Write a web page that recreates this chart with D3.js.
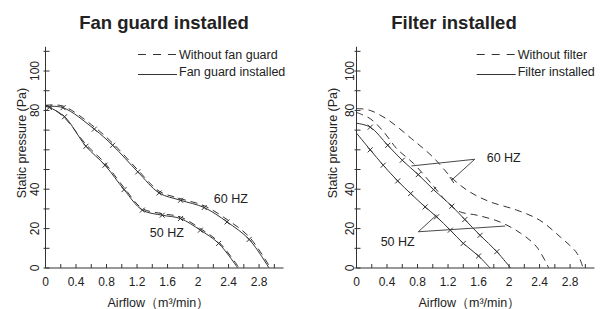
<!DOCTYPE html>
<html>
<head>
<meta charset="utf-8">
<script src="https://cdn.jsdelivr.net/npm/d3@7"></script>
<style>
  body { margin: 0; background: #fff; }
  svg { display: block; }
  text { font-family: "Liberation Sans", Arial, Helvetica, sans-serif; fill: #222; }
</style>
</head>
<body>
<div id="chart"></div>
<script>
// axis ticks
const xTickLabels = [0, 0.4, 0.8, 1.2, 1.6, 2, 2.4, 2.8]
const xMinorTicks = d3.range(0, 3.01, 0.2)
const yTickLabels = [0, 20, 40, 80, 100]
const yMinorTicks = d3.range(0, 111, 10)

// Fan guard installed panel
const fg60x = [0, 0.23, 0.64, 0.88, 1.21, 1.49, 1.77, 2.08, 2.38, 2.67, 2.93]
const fg60y = [82, 81.4, 70.5, 62.3, 48.8, 38.1, 34.4, 30.7, 23.4, 14.5, 0]
const fg50x = [0, 0.05, 0.25, 0.53, 0.78, 1.03, 1.27, 1.53, 1.77, 2.03, 2.27, 2.52]
const fg50y = [82, 81.5, 76.8, 61.8, 52.2, 39.8, 29.4, 26.8, 25.1, 19.2, 12.5, 0]
const nfg60x = [0, 0.23, 0.64, 0.88, 1.21, 1.49, 1.77, 2.08, 2.38, 2.67, 2.95]
const nfg60y = [82.6, 82.2, 71.6, 63.4, 49.8, 39, 35.2, 31.6, 24.6, 15.8, 0]
const nfg50x = [0, 0.05, 0.25, 0.53, 0.78, 1.03, 1.27, 1.53, 1.77, 2.03, 2.27, 2.54]
const nfg50y = [82.6, 82, 76.2, 62.8, 53.2, 40.8, 30.2, 27.6, 25.9, 20, 13.3, 0]

// Filter installed panel
const fl60x = [0, 0.18, 0.41, 0.6, 0.81, 1.01, 1.25, 1.42, 1.62, 1.84, 2.02]
const fl60y = [73.5, 71.5, 62.3, 54.7, 47.4, 39.8, 31.4, 24.6, 16.6, 8.3, 0]
const fl50x = [0, 0.18, 0.35, 0.54, 0.71, 0.9, 1.05, 1.23, 1.4, 1.6, 1.75]
const fl50y = [68.5, 60, 52.2, 44.2, 37.8, 31, 26, 19.2, 12.5, 6.1, 0]
const nfl60x = [0, 0.18, 0.42, 0.72, 1.0, 1.27, 1.49, 1.75, 2.1, 2.4, 2.67, 2.89, 2.97]
const nfl60y = [81, 80, 75, 65.7, 56.4, 45, 38.5, 33.6, 29.4, 24.3, 15.8, 7.5, 0]
const nfl50x = [0, 0.18, 0.34, 0.53, 0.75, 1.0, 1.2, 1.36, 1.58, 1.88, 2.15, 2.36, 2.52]
const nfl50y = [79, 75.8, 69.9, 60.5, 53, 42, 33, 28.5, 26.8, 23.4, 17.7, 10.8, 0]

const W = 605, H = 309
const ink = "#333"

const svg = d3.select("#chart").append("svg")
    .attr("width", W)
    .attr("height", H)

const toPts = (xs, ys) => xs.map((x, i) => ({x: x, y: ys[i]}))

function drawPanel(opt) {
    const xScale = d3.scaleLinear().domain([0, 3.12]).range([opt.left, opt.left + 238])
    const yScale = d3.scaleLinear().domain([0, 112.3]).range([268, 268 - 221.2])
    const g = svg.append("g")

    // title
    g.append("text")
        .attr("x", opt.titleX).attr("y", 28.5)
        .attr("text-anchor", "middle")
        .style("font-size", "18.5px").style("font-weight", "bold")
        .text(opt.title)

    // axes lines
    g.append("line")
        .attr("x1", xScale(0)).attr("x2", xScale(3.12))
        .attr("y1", yScale(0)).attr("y2", yScale(0))
        .attr("stroke", ink).attr("stroke-width", 1)
    g.append("line")
        .attr("x1", xScale(0)).attr("x2", xScale(0))
        .attr("y1", yScale(0)).attr("y2", yScale(112.3))
        .attr("stroke", ink).attr("stroke-width", 1)

    g.selectAll(".xt").data(xMinorTicks).join("line")
        .attr("x1", d => xScale(d)).attr("x2", d => xScale(d))
        .attr("y1", yScale(0)).attr("y2", yScale(0) - 4)
        .attr("stroke", ink)
    g.selectAll(".yt").data(yMinorTicks).join("line")
        .attr("x1", xScale(0) - 2).attr("x2", xScale(0) + 4)
        .attr("y1", d => yScale(d)).attr("y2", d => yScale(d))
        .attr("stroke", ink)

    g.selectAll(".xl").data(xTickLabels).join("text")
        .attr("x", d => xScale(d)).attr("y", 286)
        .attr("text-anchor", "middle")
        .style("font-size", "12px")
        .text(d => d)
    g.selectAll(".yl").data(yTickLabels).join("text")
        .attr("transform", d => `translate(${xScale(0) - opt.yLabOff},${yScale(d)}) rotate(-90)`)
        .attr("text-anchor", "middle")
        .style("font-size", "12px")
        .text(d => d)

    g.append("text")
        .attr("transform", `translate(${xScale(0) - 20},143) rotate(-90)`)
        .attr("text-anchor", "middle")
        .style("font-size", "12.5px")
        .text("Static pressure (Pa)")
    g.append("text")
        .attr("x", xScale(1.48)).attr("y", 307)
        .attr("text-anchor", "middle")
        .style("font-size", "12.5px")
        .text("Airflow（m³/min）")

    const line = d3.line()
        .x(d => xScale(d.x))
        .y(d => yScale(d.y))
        .curve(d3.curveCatmullRom.alpha(0.5))

    opt.dashed.forEach(s => {
        g.append("path").datum(toPts(s[0], s[1]))
            .attr("d", line)
            .attr("fill", "none").attr("stroke", ink).attr("stroke-width", 1)
            .attr("stroke-dasharray", "7,5")
    })
    opt.solid.forEach(s => {
        const pts = toPts(s[0], s[1])
        g.append("path").datum(pts)
            .attr("d", line)
            .attr("fill", "none").attr("stroke", ink).attr("stroke-width", 1)
        g.selectAll(null).data(pts.slice(1, -1)).join("path")
            .attr("d", d => {
                const cx = xScale(d.x), cy = yScale(d.y), r = 2.5
                return `M${cx - r},${cy - r}L${cx + r},${cy + r}M${cx - r},${cy + r}L${cx + r},${cy - r}`
            })
            .attr("stroke", ink).attr("stroke-width", 1)
    })

    // legend
    const lx = opt.legendX
    g.append("line").attr("x1", lx).attr("x2", lx + 39).attr("y1", 54.5).attr("y2", 54.5)
        .attr("stroke", ink).attr("stroke-dasharray", "8,7")
    g.append("text").attr("x", lx + 41).attr("y", 59).style("font-size", "12.5px").text(opt.legend[0])
    g.append("line").attr("x1", lx).attr("x2", lx + 39).attr("y1", 74.5).attr("y2", 74.5)
        .attr("stroke", ink)
    g.append("text").attr("x", lx + 41).attr("y", 76).style("font-size", "12.5px").text(opt.legend[1])

    // frequency labels
    opt.labels.forEach(l => {
        g.append("text")
            .attr("x", xScale(l.x)).attr("y", yScale(l.y) + 4.5)
            .attr("text-anchor", "middle")
            .style("font-size", "12.5px")
            .text(l.text)
        ;(l.leaders || []).forEach(p => {
            g.append("line")
                .attr("x1", xScale(l.from[0])).attr("y1", yScale(l.from[1]))
                .attr("x2", xScale(p[0])).attr("y2", yScale(p[1]))
                .attr("stroke", ink).attr("stroke-width", 0.9)
        })
    })
    return {xScale, yScale, g}
}

drawPanel({
    left: 45.5, titleX: 164, yLabOff: 6.5, legendX: 138,
    title: "Fan guard installed",
    legend: ["Without fan guard", "Fan guard installed"],
    dashed: [[nfg60x, nfg60y], [nfg50x, nfg50y]],
    solid: [[fg60x, fg60y], [fg50x, fg50y]],
    labels: [
        {text: "60 HZ", x: 2.43, y: 35.5},
        {text: "50 HZ", x: 1.59, y: 17.8}
    ]
})

const right = drawPanel({
    left: 356.5, titleX: 454, yLabOff: 2.5, legendX: 476.7,
    title: "Filter installed",
    legend: ["Without filter", "Filter installed"],
    dashed: [[nfl60x, nfl60y], [nfl50x, nfl50y]],
    solid: [[fl60x, fl60y], [fl50x, fl50y]],
    labels: [
        {text: "60 HZ", x: 1.93, y: 56.3, from: [1.55, 55.2], leaders: [[0.72, 51.8], [1.25, 44.7]]},
        {text: "50 HZ", x: 0.54, y: 13.4, from: [0.81, 18.4], leaders: [[1.05, 26.9], [1.95, 21.3]]}
    ]
})

// small end tick on the 60 HZ leader toward the dashed curve
right.g.append("line")
    .attr("x1", right.xScale(1.25) - 2).attr("y1", right.yScale(44.7) - 3)
    .attr("x2", right.xScale(1.25) + 2).attr("y2", right.yScale(44.7) + 3)
    .attr("stroke", ink)
</script>
</body>
</html>
